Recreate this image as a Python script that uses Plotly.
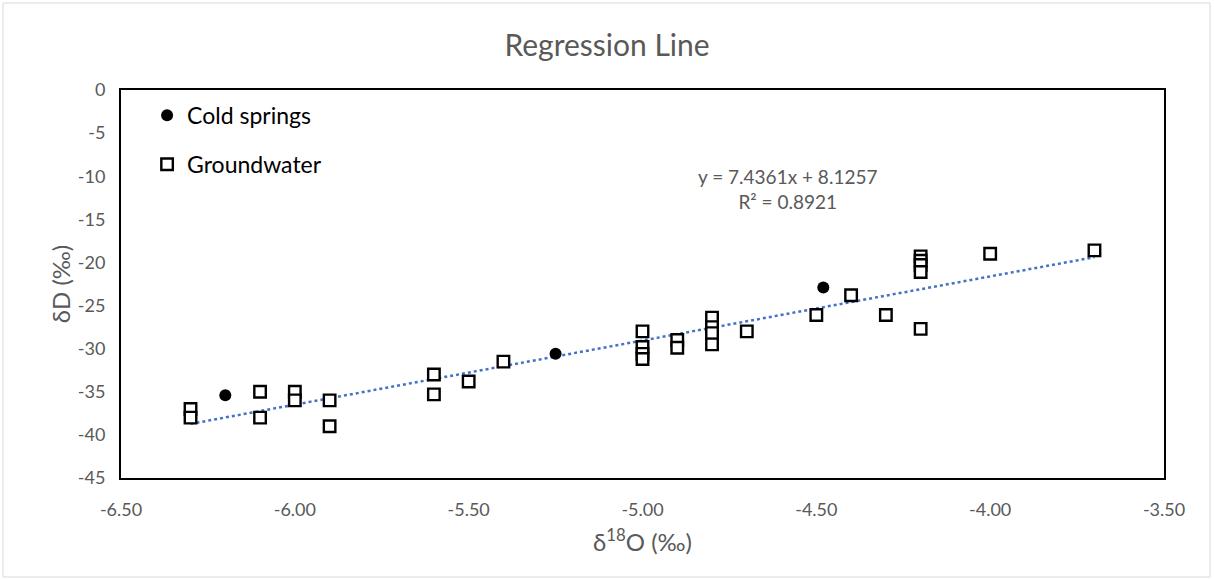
import plotly.graph_objects as go

# ---- data ----
cold_x = [-6.20, -5.25, -4.48]
cold_y = [-35.4, -30.6, -22.9]

gw_x = [-6.30, -6.30, -6.10, -6.10, -6.00, -6.00, -5.90, -5.90,
        -5.60, -5.60, -5.50, -5.40,
        -5.00, -5.00, -5.00, -5.00, -4.90, -4.90,
        -4.80, -4.80, -4.80, -4.80, -4.70, -4.50, -4.40, -4.30,
        -4.20, -4.20, -4.20, -4.20, -4.20, -4.00, -3.70]
gw_y = [-37.0, -38.0, -35.0, -38.0, -35.0, -36.0, -36.0, -39.0,
        -33.0, -35.3, -33.8, -31.5,
        -28.0, -29.8, -30.6, -31.2, -29.0, -29.9,
        -26.4, -27.5, -28.2, -29.5, -28.0, -26.1, -23.8, -26.1,
        -19.3, -19.8, -20.3, -21.1, -27.7, -19.0, -18.6]

slope = 7.4361
intercept = 8.1257
r2 = 0.8921

x_ticks = [-6.5, -6.0, -5.5, -5.0, -4.5, -4.0, -3.5]
y_ticks = [0, -5, -10, -15, -20, -25, -30, -35, -40, -45]

FONT = "Lato"
GRAY = "#595959"

all_x = cold_x + gw_x
xmin, xmax = min(all_x), max(all_x)
trend_x = [xmin, xmax]
trend_y = [slope * v + intercept for v in trend_x]

fig = go.Figure()
fig.add_trace(go.Scatter(
    x=trend_x, y=trend_y, mode="lines", showlegend=False,
    line=dict(color="#4472C4", width=2.5, dash="dot"), hoverinfo="skip"))
fig.add_trace(go.Scatter(
    x=cold_x, y=cold_y, mode="markers", name="Cold springs",
    legendgroup="a",
    marker=dict(symbol="circle", size=12, color="black")))
fig.add_trace(go.Scatter(
    x=gw_x, y=gw_y, mode="markers", name="Groundwater",
    legendgroup="b",
    marker=dict(symbol="square", size=11.5, color="white",
                line=dict(color="black", width=2.4))))

fig.update_layout(
    width=1214, height=580,
    margin=dict(l=121, r=50, t=90, b=102),
    paper_bgcolor="white", plot_bgcolor="white",
    font=dict(family=FONT, color=GRAY),
    title=dict(text="Regression Line", x=0.5, xanchor="center",
               y=0.922, yanchor="middle",
               font=dict(size=30, color=GRAY, family=FONT)),
    showlegend=True,
    legend=dict(x=0.025, y=0.99, xanchor="left", yanchor="top",
                bgcolor="rgba(0,0,0,0)", tracegroupgap=16,
                font=dict(size=23, color="black", family=FONT)),
    xaxis=dict(range=[-6.5, -3.5], tickvals=x_ticks,
               ticktext=[f"{v:.2f}" for v in x_ticks],
               showgrid=False, zeroline=False, showline=True, mirror=True,
               linecolor="black", linewidth=2, ticks="",
               ticklabelstandoff=14,
               tickfont=dict(size=18, color=GRAY),
               title=dict(text="δ<sup>18</sup>O (‰)", standoff=16,
                          font=dict(size=24, color=GRAY))),
    yaxis=dict(range=[-45, 0], tickvals=y_ticks,
               ticktext=[f"{v:d}" for v in y_ticks],
               showgrid=False, zeroline=False, showline=True, mirror=True,
               linecolor="black", linewidth=2, ticks="",
               ticklabelstandoff=10,
               tickfont=dict(size=18, color=GRAY),
               title=dict(text="δD (‰)", standoff=0,
                          font=dict(size=24, color=GRAY))),
    annotations=[dict(
        x=(787 - 121) / 1043, y=(478 - 163) / 388, xref="paper", yref="paper",
        text=f"y = {slope}x + {intercept}<br>R² = {r2}",
        showarrow=False, align="center",
        font=dict(size=19, color=GRAY, family=FONT))],
    shapes=[dict(type="rect", xref="paper", yref="paper",
                 x0=(3 - 121) / 1043, x1=(1210 - 121) / 1043,
                 y0=(478 - 577) / 388, y1=(478 - 3) / 388,
                 line=dict(color="#d9d9d9", width=1), layer="below")],
)

fig.write_html("out.html")
